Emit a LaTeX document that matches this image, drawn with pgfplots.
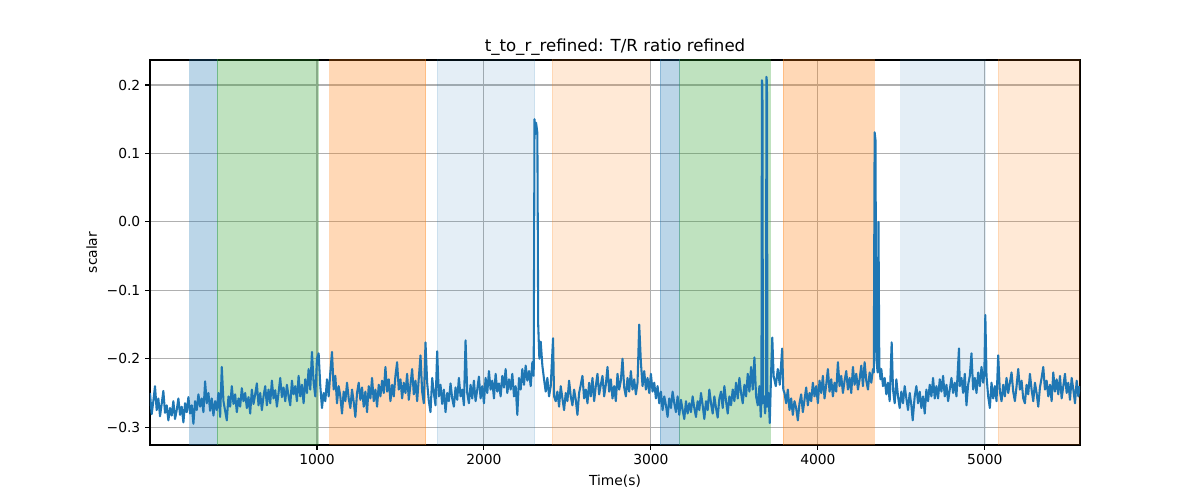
\documentclass[border=0pt]{standalone}
\usepackage{pgfplots}
\pgfplotsset{compat=1.18}
\usepackage{fontspec}
\setmainfont{DejaVu Sans}
\definecolor{tabblue}{HTML}{1F77B4}
\definecolor{taborange}{HTML}{FF7F0E}
\definecolor{tabgreen}{HTML}{2CA02C}
\definecolor{gridgray}{HTML}{B0B0B0}
\begin{document}
\begin{tikzpicture}
\useasboundingbox (-1.5in,-0.55in) rectangle (10.5in,4.45in);
\begin{axis}[
  at={(0,0)}, anchor=south west,
  scale only axis, width=9.3in, height=3.85in,
  xmin=0, xmax=5570, ymin=-0.326, ymax=0.2366,
  xtick={1000,2000,3000,4000,5000},
  xticklabels={1000,2000,3000,4000,5000},
  ytick={-0.3,-0.2,-0.1,0,0.1,0.2},
  yticklabels={−0.3,−0.2,−0.1,0.0,0.1,0.2},
  tick align=outside, major tick length=3.5pt,
  tick style={black, line width=0.8pt},
  xtick pos=bottom, ytick pos=left,
  grid=major, major grid style={gridgray, line width=0.8pt},
  axis line style={black, line width=0.8pt},
  ticklabel style={font=\fontsize{10}{12}\selectfont},
  xlabel={Time(s)}, ylabel={scalar},
  label style={font=\fontsize{10}{12}\selectfont},
  xlabel style={yshift=0pt},
  ylabel style={yshift=0pt},
  title={t\_to\_r\_refined: T/R ratio refined},
  title style={font=\fontsize{12}{14}\selectfont, yshift=-6.5pt},
  clip=true,
]
% shaded spans
\addplot[fill=tabblue, fill opacity=0.3, draw=tabblue, draw opacity=0.3] coordinates {(237,-1)(237,1)(403,1)(403,-1)} -- cycle;
\addplot[fill=tabgreen, fill opacity=0.3, draw=tabgreen, draw opacity=0.3] coordinates {(403,-1)(403,1)(1006,1)(1006,-1)} -- cycle;
\addplot[fill=taborange, fill opacity=0.3, draw=taborange, draw opacity=0.3] coordinates {(1076,-1)(1076,1)(1651,1)(1651,-1)} -- cycle;
\addplot[fill=tabblue, fill opacity=0.12, draw=tabblue, draw opacity=0.12] coordinates {(1718,-1)(1718,1)(2303,1)(2303,-1)} -- cycle;
\addplot[fill=taborange, fill opacity=0.17, draw=taborange, draw opacity=0.17] coordinates {(2408,-1)(2408,1)(2990,1)(2990,-1)} -- cycle;
\addplot[fill=tabblue, fill opacity=0.3, draw=tabblue, draw opacity=0.3] coordinates {(3056,-1)(3056,1)(3172,1)(3172,-1)} -- cycle;
\addplot[fill=tabgreen, fill opacity=0.3, draw=tabgreen, draw opacity=0.3] coordinates {(3172,-1)(3172,1)(3712,1)(3712,-1)} -- cycle;
\addplot[fill=taborange, fill opacity=0.3, draw=taborange, draw opacity=0.3] coordinates {(3790,-1)(3790,1)(4336,1)(4336,-1)} -- cycle;
\addplot[fill=tabblue, fill opacity=0.12, draw=tabblue, draw opacity=0.12] coordinates {(4496,-1)(4496,1)(5002,1)(5002,-1)} -- cycle;
\addplot[fill=taborange, fill opacity=0.17, draw=taborange, draw opacity=0.17] coordinates {(5078,-1)(5078,1)(5600,1)(5600,-1)} -- cycle;
% signal
\addplot[tabblue, line width=1.5pt, line join=round, mark=none] coordinates {
(0,-0.250)(10,-0.281)(20,-0.262)(30,-0.240)(40,-0.275)(50,-0.258)(60,-0.284)(70,-0.266)(80,-0.247)(90,-0.279)
(100,-0.268)(110,-0.290)(120,-0.272)(130,-0.283)(140,-0.262)(150,-0.288)(160,-0.275)(170,-0.258)(180,-0.282)(190,-0.270)
(200,-0.293)(210,-0.265)(220,-0.278)(230,-0.256)
(240,-0.280)(250,-0.268)(260,-0.295)(270,-0.262)(280,-0.275)(290,-0.252)(300,-0.270)(310,-0.258)(320,-0.278)(330,-0.233)
(340,-0.265)(350,-0.250)(360,-0.276)(370,-0.258)(380,-0.283)(390,-0.262)(400,-0.275)
(410,-0.250)(420,-0.285)(430,-0.212)(440,-0.262)(450,-0.276)(460,-0.290)(470,-0.255)(480,-0.270)(490,-0.240)(500,-0.266)
(510,-0.252)(520,-0.278)(530,-0.258)(540,-0.270)(550,-0.243)(560,-0.262)(570,-0.250)(580,-0.272)(590,-0.256)(600,-0.280)
(610,-0.245)(620,-0.266)(630,-0.252)(640,-0.236)(650,-0.268)(660,-0.250)(670,-0.275)(680,-0.255)(690,-0.240)(700,-0.268)
(710,-0.245)(720,-0.265)(730,-0.232)(740,-0.258)(750,-0.246)(760,-0.270)(770,-0.250)(780,-0.228)(790,-0.256)(800,-0.242)
(810,-0.262)(820,-0.238)(830,-0.255)(840,-0.268)(850,-0.232)(860,-0.252)(870,-0.240)(880,-0.262)(890,-0.225)(900,-0.255)
(910,-0.238)(920,-0.265)(930,-0.230)(940,-0.250)(950,-0.215)(960,-0.245)(970,-0.190)(980,-0.235)(990,-0.255)(1000,-0.200)
(1010,-0.192)(1020,-0.240)(1030,-0.272)(1040,-0.250)(1050,-0.262)(1060,-0.230)(1070,-0.255)(1080,-0.220)(1090,-0.190)(1100,-0.245)
(1110,-0.225)(1120,-0.265)(1130,-0.240)(1140,-0.255)(1150,-0.280)(1160,-0.248)(1170,-0.262)(1180,-0.235)(1190,-0.258)(1200,-0.272)
(1210,-0.245)(1220,-0.263)(1230,-0.285)(1240,-0.250)(1250,-0.235)(1260,-0.260)(1270,-0.242)(1280,-0.270)(1290,-0.248)(1300,-0.278)
(1310,-0.240)(1320,-0.258)(1330,-0.228)(1340,-0.262)(1350,-0.245)(1360,-0.270)(1370,-0.238)(1380,-0.255)(1390,-0.232)(1400,-0.250)
(1410,-0.212)(1420,-0.248)(1430,-0.230)(1440,-0.262)(1450,-0.238)(1460,-0.255)(1470,-0.225)(1480,-0.205)(1490,-0.245)(1500,-0.230)
(1510,-0.258)(1520,-0.235)(1530,-0.250)(1540,-0.222)(1550,-0.260)(1560,-0.238)(1570,-0.215)(1580,-0.252)(1590,-0.232)(1600,-0.262)
(1610,-0.228)(1620,-0.195)(1630,-0.248)(1640,-0.265)
(1650,-0.176)(1660,-0.235)(1670,-0.262)(1680,-0.278)(1690,-0.228)(1700,-0.250)(1710,-0.268)(1720,-0.189)
(1730,-0.255)(1740,-0.238)(1750,-0.266)(1760,-0.245)(1770,-0.278)(1780,-0.250)(1790,-0.262)(1800,-0.236)(1810,-0.258)(1820,-0.270)
(1830,-0.242)(1840,-0.260)(1850,-0.228)(1860,-0.255)(1870,-0.245)(1880,-0.268)(1890,-0.173)(1900,-0.250)(1910,-0.265)(1920,-0.238)
(1930,-0.258)(1940,-0.232)(1950,-0.262)(1960,-0.245)(1970,-0.226)(1980,-0.258)(1990,-0.240)(2000,-0.265)(2010,-0.228)(2020,-0.250)
(2030,-0.218)(2040,-0.245)(2050,-0.232)(2060,-0.258)(2070,-0.222)(2080,-0.248)(2090,-0.236)(2100,-0.255)(2110,-0.225)(2120,-0.242)
(2130,-0.215)(2140,-0.250)(2150,-0.230)(2160,-0.245)(2170,-0.222)(2180,-0.255)(2190,-0.240)(2200,-0.282)(2210,-0.228)(2220,-0.245)
(2230,-0.215)(2240,-0.238)(2250,-0.210)(2260,-0.232)(2270,-0.218)(2280,-0.240)(2290,-0.205)
(2298,-0.225)(2303,0.150)(2308,0.128)(2312,0.145)(2316,0.138)(2320,0.130)(2325,-0.150)(2332,-0.200)(2340,-0.175)(2350,-0.210)
(2360,-0.230)(2370,-0.248)(2380,-0.228)(2390,-0.255)(2400,-0.240)(2414,-0.170)(2420,-0.255)
(2430,-0.262)(2440,-0.248)(2450,-0.270)(2460,-0.240)(2470,-0.258)(2480,-0.275)(2490,-0.250)(2500,-0.262)(2510,-0.232)(2520,-0.255)
(2530,-0.268)(2540,-0.245)(2550,-0.260)(2560,-0.282)(2570,-0.250)(2580,-0.238)(2590,-0.225)(2600,-0.258)(2610,-0.245)(2620,-0.265)
(2630,-0.235)(2640,-0.255)(2650,-0.228)(2660,-0.262)(2670,-0.240)(2680,-0.222)(2690,-0.252)(2700,-0.238)
(2710,-0.225)(2720,-0.255)(2730,-0.238)(2740,-0.212)(2750,-0.248)(2760,-0.230)(2770,-0.258)(2780,-0.240)(2790,-0.262)(2800,-0.222)
(2810,-0.245)(2820,-0.232)(2830,-0.200)(2840,-0.242)(2850,-0.255)(2860,-0.228)(2870,-0.248)(2880,-0.218)(2890,-0.245)(2900,-0.230)
(2910,-0.252)(2920,-0.235)(2930,-0.150)(2940,-0.205)(2950,-0.240)(2960,-0.218)(2970,-0.245)(2980,-0.228)(2990,-0.250)
(3000,-0.222)(3010,-0.248)(3020,-0.235)(3030,-0.258)(3040,-0.240)(3050,-0.265)(3060,-0.248)(3070,-0.275)(3080,-0.255)(3090,-0.268)
(3100,-0.285)(3110,-0.258)(3120,-0.272)(3130,-0.248)(3140,-0.265)(3150,-0.278)(3160,-0.255)(3170,-0.282)
(3180,-0.260)(3190,-0.275)(3200,-0.288)(3210,-0.262)(3220,-0.280)(3230,-0.265)(3240,-0.278)(3250,-0.255)(3260,-0.272)(3270,-0.285)
(3280,-0.262)(3290,-0.275)(3300,-0.250)(3310,-0.268)(3320,-0.288)(3330,-0.262)(3340,-0.275)(3350,-0.245)(3360,-0.265)(3370,-0.280)
(3380,-0.255)(3390,-0.272)(3400,-0.286)(3410,-0.258)(3420,-0.248)(3430,-0.272)(3440,-0.240)(3450,-0.262)(3460,-0.280)(3470,-0.255)
(3480,-0.268)(3490,-0.245)(3500,-0.262)
(3510,-0.235)(3520,-0.258)(3530,-0.228)(3540,-0.250)(3550,-0.265)(3560,-0.238)(3570,-0.255)(3580,-0.222)(3590,-0.248)(3600,-0.212)
(3610,-0.245)(3620,-0.198)(3630,-0.255)(3640,-0.268)(3650,-0.240)(3658,-0.285)
(3662,-0.260)(3665,0.207)(3668,0.200)(3671,-0.265)(3678,-0.255)(3684,-0.280)(3689,-0.260)(3692,0.212)
(3695,0.205)(3698,-0.270)(3704,-0.250)(3712,-0.294)(3720,-0.220)(3727,-0.169)(3735,-0.225)(3748,-0.240)(3760,-0.215)(3772,-0.238)
(3786,-0.185)(3793,-0.245)
(3800,-0.250)(3810,-0.265)(3820,-0.245)(3830,-0.275)(3840,-0.258)(3850,-0.282)(3860,-0.262)(3870,-0.272)(3880,-0.290)(3890,-0.265)
(3900,-0.252)(3910,-0.278)(3920,-0.260)(3930,-0.242)(3940,-0.268)(3950,-0.250)
(3960,-0.262)(3970,-0.235)(3980,-0.255)(3990,-0.240)(4000,-0.265)(4010,-0.232)(4020,-0.250)(4030,-0.225)(4040,-0.258)(4050,-0.238)
(4060,-0.215)(4070,-0.248)(4080,-0.230)(4090,-0.255)(4100,-0.235)(4110,-0.248)(4120,-0.205)(4130,-0.240)(4140,-0.225)(4150,-0.250)
(4160,-0.232)(4170,-0.218)(4180,-0.245)(4190,-0.228)(4200,-0.250)(4210,-0.212)(4220,-0.238)(4230,-0.222)(4240,-0.245)(4250,-0.230)
(4260,-0.210)(4270,-0.240)(4280,-0.205)(4290,-0.232)(4300,-0.245)(4310,-0.220)(4320,-0.235)(4330,-0.215)
(4335,-0.220)(4340,0.131)(4345,0.120)(4350,-0.200)(4358,-0.220)(4363,0.000)(4368,-0.210)(4375,-0.230)
(4380,-0.215)(4390,-0.240)(4400,-0.228)(4410,-0.252)(4420,-0.235)(4430,-0.262)(4442,-0.176)(4450,-0.245)(4460,-0.265)(4470,-0.230)
(4480,-0.255)(4490,-0.272)(4500,-0.248)
(4510,-0.265)(4520,-0.240)(4530,-0.258)(4540,-0.275)(4550,-0.250)(4560,-0.268)(4568,-0.290)(4580,-0.255)(4590,-0.240)(4600,-0.265)
(4610,-0.248)(4620,-0.272)(4630,-0.255)(4640,-0.280)(4650,-0.245)(4660,-0.262)(4670,-0.238)(4680,-0.255)(4690,-0.228)(4700,-0.258)
(4710,-0.240)(4720,-0.258)(4730,-0.230)(4740,-0.248)(4750,-0.225)(4760,-0.255)(4770,-0.238)(4780,-0.262)(4790,-0.245)(4800,-0.228)
(4810,-0.250)(4820,-0.235)(4830,-0.255)(4845,-0.185)(4850,-0.240)(4860,-0.228)(4870,-0.250)(4880,-0.222)(4890,-0.268)(4900,-0.238)
(4910,-0.225)(4920,-0.192)(4930,-0.245)(4940,-0.228)(4950,-0.250)(4960,-0.220)(4970,-0.240)(4980,-0.212)(4990,-0.235)(4997,-0.222)
(5003,-0.136)(5010,-0.225)(5020,-0.255)(5030,-0.272)(5040,-0.235)(5050,-0.258)(5060,-0.240)(5070,-0.262)(5080,-0.195)
(5090,-0.248)(5100,-0.262)(5110,-0.238)(5120,-0.255)(5130,-0.228)(5140,-0.250)(5150,-0.235)(5160,-0.220)(5170,-0.248)(5180,-0.262)
(5190,-0.240)(5200,-0.215)(5210,-0.245)(5220,-0.232)(5230,-0.258)(5240,-0.265)(5250,-0.238)(5260,-0.252)(5270,-0.222)(5280,-0.245)
(5290,-0.262)(5300,-0.235)(5310,-0.250)(5320,-0.270)(5330,-0.242)(5340,-0.228)(5350,-0.212)(5360,-0.245)(5370,-0.232)(5380,-0.255)
(5390,-0.238)(5400,-0.262)(5410,-0.220)(5420,-0.248)(5430,-0.230)(5440,-0.252)(5450,-0.225)(5460,-0.258)(5470,-0.240)(5480,-0.222)
(5490,-0.250)(5500,-0.235)(5510,-0.260)(5520,-0.228)(5530,-0.245)(5540,-0.265)(5550,-0.232)(5560,-0.255)(5568,-0.240)
};
\end{axis}
\end{tikzpicture}
\end{document}
